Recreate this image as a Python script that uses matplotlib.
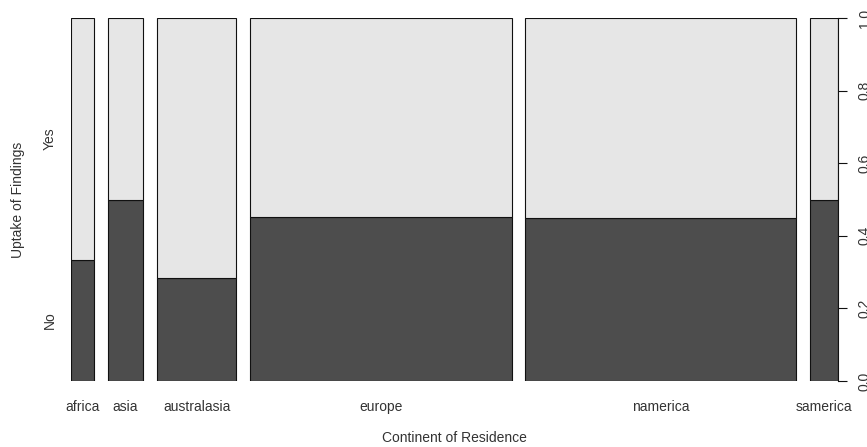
import matplotlib
matplotlib.use("Agg")
import matplotlib.pyplot as plt
from matplotlib.transforms import blended_transform_factory

# spineplot: Continent of Residence vs Uptake of Findings
continents = ["africa", "asia", "australasia", "europe", "namerica", "samerica"]
counts = [12, 18, 41, 135, 140, 14]            # bar widths (relative group sizes)
no_share = [0.333, 0.50, 0.285, 0.453, 0.449, 0.50]  # proportion answering "No"
y_ticks = [0.0, 0.2, 0.4, 0.6, 0.8, 1.0]

dark = "#4d4d4d"
light = "#e6e6e6"
txt = "#333333"
fs = 10
plt.rcParams["font.family"] = ["Liberation Sans", "DejaVu Sans"]

W, H = 867, 447
fig = plt.figure(figsize=(W / 100, H / 100), dpi=100)
ax = fig.add_axes([71 / W, (H - 381) / H, (837.5 - 71) / W, (381 - 18) / H])

off = 0.02
total = float(sum(counts))
left = 0.0
centers = []
for n, p in zip(counts, no_share):
    w = n / total
    ax.bar(left, p, width=w, bottom=0, align="edge", color=dark,
           edgecolor="#111111", linewidth=0.8)
    ax.bar(left, 1 - p, width=w, bottom=p, align="edge", color=light,
           edgecolor="#111111", linewidth=0.8)
    centers.append(left + w / 2)
    left += w + off

ax.set_xlim(0, left - off)
ax.set_ylim(0, 1)
for s in ["top", "bottom", "left"]:
    ax.spines[s].set_visible(False)
ax.spines["right"].set_linewidth(0.8)
ax.spines["right"].set_color("#111111")

ax.set_xticks(centers)
ax.set_xticklabels(continents, fontsize=fs, color=txt)
ax.tick_params(axis="x", length=0, pad=14)

ax.yaxis.tick_right()
ax.set_yticks(y_ticks)
ax.set_yticklabels(["%.1f" % v for v in y_ticks], fontsize=fs, color=txt,
                   rotation=90, va="center")
ax.tick_params(axis="y", length=6.5, width=0.8, color="#111111", pad=8)

# category labels on the left, placed at the first column's split
tr = blended_transform_factory(fig.transFigure, ax.transData)
p0 = no_share[0]
fig.text(50 / W, p0 / 2, "No", transform=tr, rotation=90, ha="center",
         va="center", fontsize=fs, color=txt)
fig.text(50 / W, (1 + p0) / 2, "Yes", transform=tr, rotation=90, ha="center",
         va="center", fontsize=fs, color=txt)

fig.text(18 / W, 1 - 200 / H, "Uptake of Findings", rotation=90,
         ha="center", va="center", fontsize=fs, color=txt)
fig.text(454 / W, 1 - 438 / H, "Continent of Residence", ha="center",
         va="center", fontsize=fs, color=txt)

fig.savefig("out.png", dpi=100, facecolor="white")
